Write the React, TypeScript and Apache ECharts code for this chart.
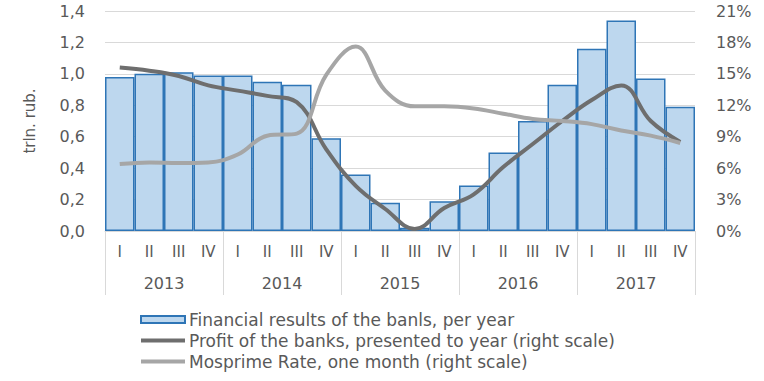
import React, { useEffect, useRef } from "react";
import * as echarts from "echarts";

const quarters = ["I", "II", "III", "IV", "I", "II", "III", "IV", "I", "II", "III", "IV", "I", "II", "III", "IV", "I", "II", "III", "IV"];
const years = ["2013", "2014", "2015", "2016", "2017"];
const financialResults = [0.98, 1.0, 1.01, 0.99, 0.99, 0.95, 0.93, 0.59, 0.36, 0.18, 0.02, 0.19, 0.29, 0.5, 0.7, 0.93, 1.16, 1.34, 0.97, 0.79];
const profitRate = [15.6, 15.3, 14.8, 13.9, 13.4, 12.9, 12.3, 7.8, 4.3, 2.1, 0.2, 2.2, 3.5, 6.1, 8.3, 10.5, 12.5, 13.9, 10.5, 8.5];
const mosprimeRate = [6.4, 6.55, 6.5, 6.55, 7.3, 9.1, 9.3, 14.9, 17.6, 13.4, 11.9, 11.9, 11.7, 11.2, 10.7, 10.5, 10.2, 9.6, 9.1, 8.4];

const FONT = "'DejaVu Sans', Verdana, sans-serif";
const TXT = "#595959";
const LINE_ICON = "path://M0,0H44V4H0Z";

export default function App() {
  const ref = useRef<HTMLDivElement>(null);
  useEffect(() => {
    if (!ref.current) return;
    const chart = echarts.init(ref.current, undefined, { renderer: "svg" });
    chart.setOption({
      animation: false,
      backgroundColor: "#ffffff",
      textStyle: { fontFamily: FONT },
      grid: { left: 105, right: 69, top: 11, bottom: 150 },
      legend: {
        orient: "vertical",
        left: 135,
        top: 306,
        itemWidth: 44,
        itemHeight: 7,
        itemGap: 4,
        symbolKeepAspect: true,
        textStyle: { fontFamily: FONT, fontSize: 17, lineHeight: 17, color: TXT, padding: [0, 0, 0, -1] },
        data: [
          { name: "Financial results of the banls, per year", icon: "rect" },
          { name: "Profit of the banks, presented to year (right scale)", icon: LINE_ICON },
          { name: "Mosprime Rate, one month (right scale)", icon: LINE_ICON },
        ],
      },
      xAxis: [
        {
          type: "category",
          data: quarters,
          position: "bottom",
          axisLine: { show: true, lineStyle: { color: "#d9d9d9", width: 1 } },
          axisTick: { show: false },
          axisLabel: { color: TXT, fontSize: 15, fontFamily: FONT, margin: 13 },
        },
        {
          type: "category",
          data: years,
          position: "bottom",
          axisLine: { show: false },
          axisTick: { show: true, length: 64, lineStyle: { color: "#d9d9d9", width: 1 } },
          axisLabel: { color: TXT, fontSize: 16, fontFamily: FONT, margin: 44 },
        },
      ],
      yAxis: [
        {
          type: "value",
          min: 0,
          max: 1.4,
          interval: 0.2,
          name: "trln. rub.",
          nameLocation: "middle",
          nameGap: 68,
          nameRotate: 90,
          nameTextStyle: { color: TXT, fontSize: 15, fontFamily: FONT },
          axisLine: { show: false },
          axisTick: { show: false },
          splitLine: { lineStyle: { color: "#d9d9d9", width: 1 } },
          axisLabel: {
            color: TXT,
            fontSize: 16,
            fontFamily: FONT,
            margin: 20,
            formatter: (v: number) => v.toFixed(1).replace(".", ","),
          },
        },
        {
          type: "value",
          min: 0,
          max: 21,
          interval: 3,
          position: "right",
          axisLine: { show: false },
          axisTick: { show: false },
          splitLine: { show: false },
          axisLabel: { color: TXT, fontSize: 16, fontFamily: FONT, margin: 21, formatter: (v: number) => v + "%" },
        },
      ],
      series: [
        {
          name: "Financial results of the banls, per year",
          type: "bar",
          data: financialResults,
          barCategoryGap: "0%",
          itemStyle: { color: "#bdd7ee", borderColor: "#2e75b6", borderWidth: 1.5 },
        },
        {
          name: "Profit of the banks, presented to year (right scale)",
          type: "line",
          yAxisIndex: 1,
          data: profitRate,
          smooth: 0.4,
          symbol: "none",
          lineStyle: { color: "#6e6e6e", width: 4 },
          itemStyle: { color: "#6e6e6e" },
        },
        {
          name: "Mosprime Rate, one month (right scale)",
          type: "line",
          yAxisIndex: 1,
          data: mosprimeRate,
          smooth: 0.4,
          symbol: "none",
          lineStyle: { color: "#a6a6a6", width: 4 },
          itemStyle: { color: "#a6a6a6" },
        },
      ],
    });
    return () => chart.dispose();
  }, []);
  return <div ref={ref} style={{ width: 764, height: 381, position: "absolute", left: 0, top: 0 }} />;
}
